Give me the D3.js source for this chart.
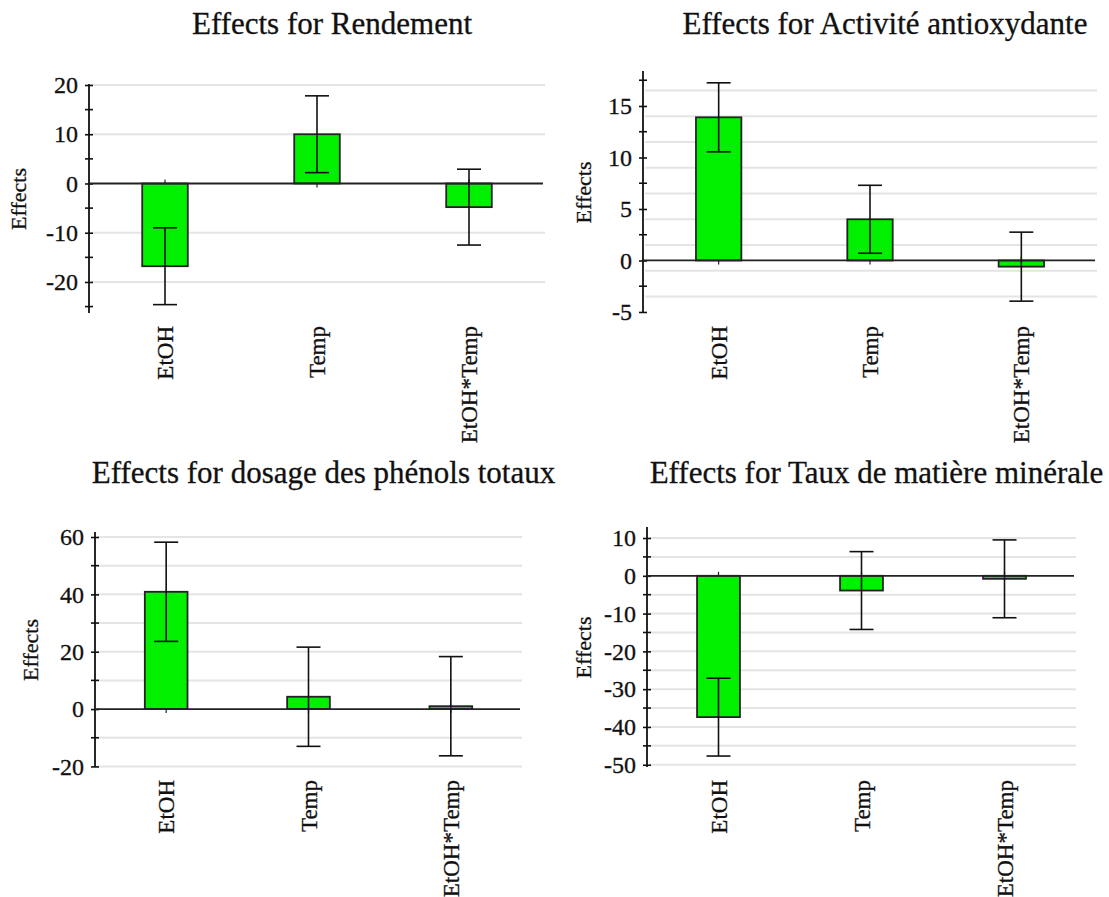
<!DOCTYPE html>
<html>
<head>
<meta charset="utf-8">
<script src="https://cdn.jsdelivr.net/npm/d3@7"></script>
<style>
  body { margin: 0; background: #fff; }
  svg text { font-family: "Liberation Serif", "Times New Roman", serif; fill: #111; stroke: #111; stroke-width: 0.3px; }
</style>
</head>
<body>
<svg id="chart" width="1109" height="897"></svg>
<script>
// factors on the x axis (same for every panel)
var categories = ["EtOH", "Temp", "EtOH*Temp"];

// effects, with the half width of each error bar
var rendement = [-16.8, 10.0, -4.8];
var rendementErr = [7.8, 7.8, 7.7];
var antiox = [13.9, 4.0, -0.6];
var antioxErr = [3.35, 3.3, 3.35];
var phenols = [40.9, 4.3, 1.0];
var phenolsErr = [17.3, 17.3, 17.3];
var mineral = [-37.4, -3.9, -0.8];
var mineralErr = [10.3, 10.3, 10.3];

// titles
var titles = ["Effects for Rendement", "Effects for Activité antioxydante",
              "Effects for dosage des phénols totaux", "Effects for Taux de matière minérale"];

// y axis extents and ticks
var domains = [[-26.3, 20], [-5.1, 18.3], [-20.2, 61.4], [-50.6, 12.65]];
var majorTicks = [[20, 10, 0, -10, -20], [15, 10, 5, 0, -5],
                  [60, 40, 20, 0, -20], [10, 0, -10, -20, -30, -40, -50]];
var minorTicks = [[15, 5, -5, -15, -25], [17.5, 12.5, 7.5, 2.5, -2.5],
                  [50, 30, 10, -10], [5, -5, -15, -25, -35, -45]];
var gridValues = [[20, 10, -10, -20], [16.5, 14, 11.5, 9, 6.5, 4, 1.5, -1, -3.5],
                  [60, 50, 40, 30, 20, 10, -10, -20],
                  [10, 5, -5, -10, -15, -20, -25, -30, -35, -40, -45, -50]];

var values = [rendement, antiox, phenols, mineral];
var errors = [rendementErr, antioxErr, phenolsErr, mineralErr];

// plot boxes in pixels: left, right, top, bottom, title baseline, y label baseline
var boxes = [
  {left: 89, right: 545, top: 85, bottom: 313, titleY: 34, labelX: 26},
  {left: 643, right: 1097, top: 72, bottom: 313, titleY: 34, labelX: 591},
  {left: 95, right: 522, top: 533, bottom: 767, titleY: 483, labelX: 38},
  {left: 647, right: 1076, top: 528, bottom: 767, titleY: 483, labelX: 591}
];

var serif = "Liberation Serif, Times New Roman, serif";
var svg = d3.select("#chart");

boxes.forEach(function(b, p) {
  var g = svg.append("g");

  var y = d3.scaleLinear()
    .domain(domains[p])
    .range([b.bottom, b.top]);

  var x = d3.scaleBand()
    .domain(categories)
    .range([b.left, b.right])
    .paddingInner(0)
    .paddingOuter(0);

  var barW = x.bandwidth() * 0.3;
  var capW = 24;

  // title
  g.append("text")
    .attr("x", (b.left + b.right) / 2 + 15)
    .attr("y", b.titleY)
    .attr("text-anchor", "middle")
    .attr("font-family", serif)
    .attr("font-size", "31px")
    .text(titles[p]);

  // y label
  g.append("text")
    .attr("transform", "translate(" + b.labelX + "," + ((b.top + b.bottom) / 2) + ") rotate(-90)")
    .attr("text-anchor", "middle")
    .attr("font-family", serif)
    .attr("font-size", "22px")
    .text("Effects");

  // grid lines
  g.selectAll(".grid")
    .data(gridValues[p])
    .enter()
    .append("line")
    .attr("x1", b.left + 2)
    .attr("x2", b.right)
    .attr("y1", function(d) { return y(d); })
    .attr("y2", function(d) { return y(d); })
    .attr("stroke", "#e4e4e4")
    .attr("stroke-width", 2);

  // y axis, ticks crossing the line
  var yAxis = d3.axisLeft(y)
    .tickValues(majorTicks[p])
    .tickSize(4)
    .tickPadding(7)
    .tickFormat(function(d) { return d < 0 ? "-" + Math.abs(d) : d; });

  var ax = g.append("g")
    .attr("transform", "translate(" + b.left + ",0)")
    .call(yAxis)
    .attr("font-family", serif)
    .attr("font-size", 24);
  ax.select(".domain").remove();
  ax.selectAll(".tick line").attr("x1", -4).attr("x2", 4)
    .attr("stroke", "#111").attr("stroke-width", 1.6);
  ax.selectAll(".tick text")
    .attr("font-size", "24px")
    .attr("fill", "#111");

  g.selectAll(".minor")
    .data(minorTicks[p])
    .enter()
    .append("line")
    .attr("x1", b.left - 4)
    .attr("x2", b.left + 4)
    .attr("y1", function(d) { return y(d); })
    .attr("y2", function(d) { return y(d); })
    .attr("stroke", "#111")
    .attr("stroke-width", 1.6);

  g.append("line")
    .attr("x1", b.left).attr("x2", b.left)
    .attr("y1", b.top - 1).attr("y2", b.bottom)
    .attr("stroke", "#111")
    .attr("stroke-width", 1.8);

  // small ticks on the zero line
  g.selectAll(".xtick")
    .data(categories)
    .enter()
    .append("line")
    .attr("x1", function(d) { return x(d) + x.bandwidth() / 2; })
    .attr("x2", function(d) { return x(d) + x.bandwidth() / 2; })
    .attr("y1", y(0) - 4)
    .attr("y2", y(0) + 4)
    .attr("stroke", "#222")
    .attr("stroke-width", 1.2);

  // bars
  g.selectAll(".bar")
    .data(values[p])
    .enter()
    .append("rect")
    .attr("x", function(d, i) { return x(categories[i]) + (x.bandwidth() - barW) / 2; })
    .attr("y", function(d) { return y(Math.max(0, d)); })
    .attr("width", barW)
    .attr("height", function(d) { return Math.abs(y(d) - y(0)); })
    .attr("fill", "#00f000")
    .attr("stroke", "#222")
    .attr("stroke-width", 1.8);

  // zero line
  g.append("line")
    .attr("x1", b.left)
    .attr("x2", b.right - 2)
    .attr("y1", y(0))
    .attr("y2", y(0))
    .attr("stroke", "#222")
    .attr("stroke-width", 1.8);

  // error bars
  var eb = g.selectAll(".err")
    .data(values[p])
    .enter()
    .append("g")
    .attr("stroke", "#111")
    .attr("stroke-width", 1.6);

  eb.append("line")
    .attr("x1", function(d, i) { return x(categories[i]) + x.bandwidth() / 2; })
    .attr("x2", function(d, i) { return x(categories[i]) + x.bandwidth() / 2; })
    .attr("y1", function(d, i) { return y(d + errors[p][i]); })
    .attr("y2", function(d, i) { return y(d - errors[p][i]); });

  eb.append("line")
    .attr("x1", function(d, i) { return x(categories[i]) + x.bandwidth() / 2 - capW / 2; })
    .attr("x2", function(d, i) { return x(categories[i]) + x.bandwidth() / 2 + capW / 2; })
    .attr("y1", function(d, i) { return y(d + errors[p][i]); })
    .attr("y2", function(d, i) { return y(d + errors[p][i]); });

  eb.append("line")
    .attr("x1", function(d, i) { return x(categories[i]) + x.bandwidth() / 2 - capW / 2; })
    .attr("x2", function(d, i) { return x(categories[i]) + x.bandwidth() / 2 + capW / 2; })
    .attr("y1", function(d, i) { return y(d - errors[p][i]); })
    .attr("y2", function(d, i) { return y(d - errors[p][i]); });

  // category labels, rotated
  g.selectAll(".cat")
    .data(categories)
    .enter()
    .append("text")
    .attr("transform", function(d) {
      return "translate(" + (x(d) + x.bandwidth() / 2) + "," + (b.bottom + 13) + ") rotate(-90)";
    })
    .attr("dy", "0.35em")
    .attr("text-anchor", "end")
    .attr("font-family", serif)
    .attr("font-size", "23px")
    .text(function(d) { return d; });
});
</script>
</body>
</html>
